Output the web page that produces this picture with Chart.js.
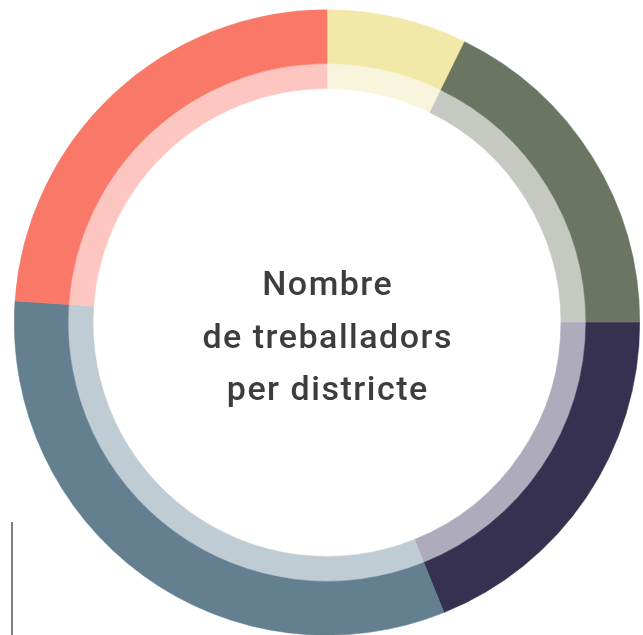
<!DOCTYPE html>
<html>
<head>
<meta charset="utf-8">
<script src="https://cdn.jsdelivr.net/npm/chart.js@4"></script>
<style>
  html, body { margin: 0; padding: 0; background: #ffffff; overflow: hidden; width: 643px; height: 635px; }
  #wrap { position: absolute; left: 14px; top: 9px; width: 626px; height: 627px; }
  #vline { position: absolute; left: 11px; top: 522px; width: 2px; height: 113px; background: #808080; }
</style>
</head>
<body>
<div id="vline"></div>
<div id="wrap"><canvas id="c"></canvas></div>
<script>
const districts = ["Districte 1", "Districte 2", "Districte 3", "Districte 4", "Districte 5"];
const shares = [7.25, 17.75, 18.9, 32.2, 23.9];
const outerColors = ["#F2E8A7", "#6A7562", "#363151", "#637F90", "#FA7868"];
const innerColors = ["#F9F5DC", "#C5C9C2", "#AEABBD", "#C0CCD3", "#FEC6C0"];
const centerLines = ["Nombre", "de treballadors", "per districte"];

const centerText = {
  id: 'centerText',
  afterDraw(chart) {
    const meta = chart.getDatasetMeta(0);
    const arc = meta.data[0];
    const cx = arc.x, cy = arc.y;
    const ctx = chart.ctx;
    ctx.save();
    ctx.fillStyle = '#3d3d3d';
    ctx.font = '500 34px Roboto';
    if ('letterSpacing' in ctx) ctx.letterSpacing = '1.5px';
    ctx.textAlign = 'center';
    ctx.textBaseline = 'alphabetic';
    const offs = [-27.5, 25, 77];
    centerLines.forEach((t, i) => ctx.fillText(t, cx + 0.75, cy + offs[i]));
    ctx.restore();
  }
};

new Chart(document.getElementById('c'), {
  type: 'doughnut',
  data: {
    labels: districts,
    datasets: [
      { data: shares, backgroundColor: outerColors, borderColor: outerColors, borderWidth: 0.5, weight: 54 },
      { data: shares, backgroundColor: innerColors, borderColor: innerColors, borderWidth: 0.5, weight: 25 }
    ]
  },
  options: {
    responsive: true,
    maintainAspectRatio: false,
    animation: false,
    cutout: '74.8%',
    layout: { padding: 0 },
    plugins: { legend: { display: false }, tooltip: { enabled: false } }
  },
  plugins: [centerText]
});
</script>
</body>
</html>
